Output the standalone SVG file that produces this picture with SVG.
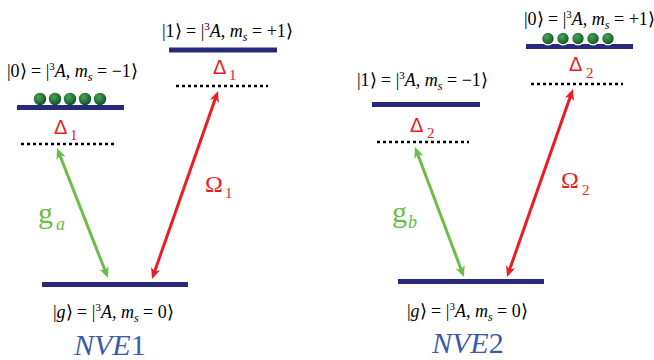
<svg xmlns="http://www.w3.org/2000/svg" width="654" height="360" viewBox="0 0 654 360">
<rect width="654" height="360" fill="#fff"/>
<defs>
<radialGradient id="bg" cx="0.4" cy="0.35" r="0.65">
<stop offset="0" stop-color="#4fa35a"/>
<stop offset="1" stop-color="#0b5520"/>
</radialGradient>
<marker id="ar" viewBox="-12 -6 14 12" refX="-4" refY="0" markerWidth="14" markerHeight="12" markerUnits="userSpaceOnUse" orient="auto-start-reverse">
<path d="M0,0 L-11,-4.8 L-8,0 L-11,4.8 Z" fill="#ec1c24"/>
</marker>
<marker id="ag" viewBox="-12 -6 14 12" refX="-4" refY="0" markerWidth="14" markerHeight="12" markerUnits="userSpaceOnUse" orient="auto-start-reverse">
<path d="M0,0 L-11,-4.8 L-8,0 L-11,4.8 Z" fill="#6abd45"/>
</marker>
</defs>

<g id="nve1-level0">
<text style="font-family:'Liberation Serif',serif !important" font-size="18" fill="#000" x="7" y="77">|0⟩ = |<tspan font-size="11" dy="-7">3</tspan><tspan font-style="italic" dy="7">A</tspan>, <tspan font-style="italic">m</tspan><tspan font-size="12" font-style="italic" dy="4">s</tspan><tspan dy="-4"> = −1⟩</tspan></text>
<g fill="url(#bg)">
<circle cx="40" cy="99" r="6.2"/>
<circle cx="55" cy="99" r="6.2"/>
<circle cx="70" cy="99" r="6.2"/>
<circle cx="85" cy="99" r="6.2"/>
<circle cx="100" cy="99" r="6.2"/>
</g>
<line stroke="#262a78" stroke-width="5" x1="17" y1="107.5" x2="124" y2="107.5"/>
<text style="font-family:'Liberation Sans',sans-serif !important" font-size="20" fill="#ec1c24" x="54" y="134">Δ</text>
<text style="font-family:'Liberation Serif',serif !important" font-size="15" fill="#ec1c24" x="70" y="140">1</text>
<line stroke="#000" stroke-width="2.6" stroke-dasharray="3 3" x1="21" y1="144" x2="114" y2="144"/>
</g>

<g id="nve1-level1">
<text style="font-family:'Liberation Serif',serif !important" font-size="18" fill="#000" x="162" y="37">|1⟩ = |<tspan font-size="11" dy="-7">3</tspan><tspan font-style="italic" dy="7">A</tspan>, <tspan font-style="italic">m</tspan><tspan font-size="12" font-style="italic" dy="4">s</tspan><tspan dy="-4"> = +1⟩</tspan></text>
<line stroke="#262a78" stroke-width="5" x1="169" y1="50" x2="277" y2="50"/>
<text style="font-family:'Liberation Sans',sans-serif !important" font-size="20" fill="#ec1c24" x="213" y="74">Δ</text>
<text style="font-family:'Liberation Serif',serif !important" font-size="15" fill="#ec1c24" x="229" y="80">1</text>
<line stroke="#000" stroke-width="2.6" stroke-dasharray="3 3" x1="176" y1="86" x2="268" y2="86"/>
</g>

<g id="nve1-ground">
<line stroke="#262a78" stroke-width="5" x1="42" y1="284.5" x2="188" y2="284.5"/>
<text style="font-family:'Liberation Serif',serif !important" font-size="18" fill="#000" x="53" y="318">|<tspan font-style="italic">g</tspan>⟩ = |<tspan font-size="11" dy="-7">3</tspan><tspan font-style="italic" dy="7">A</tspan>, <tspan font-style="italic">m</tspan><tspan font-size="12" font-style="italic" dy="4">s</tspan><tspan dy="-4"> = 0⟩</tspan></text>
<text style="font-family:'Liberation Serif',serif !important" font-size="30" font-style="italic" fill="#3b5ba9" x="74" y="355">NVE<tspan font-style="normal">1</tspan></text>
</g>

<g id="nve2-level1">
<text style="font-family:'Liberation Serif',serif !important" font-size="18" fill="#000" x="357" y="86">|1⟩ = |<tspan font-size="11" dy="-7">3</tspan><tspan font-style="italic" dy="7">A</tspan>, <tspan font-style="italic">m</tspan><tspan font-size="12" font-style="italic" dy="4">s</tspan><tspan dy="-4"> = −1⟩</tspan></text>
<line stroke="#262a78" stroke-width="5" x1="372" y1="104.5" x2="480" y2="104.5"/>
<text style="font-family:'Liberation Sans',sans-serif !important" font-size="20" fill="#ec1c24" x="410" y="132">Δ</text>
<text style="font-family:'Liberation Serif',serif !important" font-size="15" fill="#ec1c24" x="427" y="138">2</text>
<line stroke="#000" stroke-width="2.6" stroke-dasharray="3 3" x1="377" y1="142" x2="469" y2="142"/>
</g>

<g id="nve2-level0">
<text style="font-family:'Liberation Serif',serif !important" font-size="18" fill="#000" x="524" y="25">|0⟩ = |<tspan font-size="11" dy="-7">3</tspan><tspan font-style="italic" dy="7">A</tspan>, <tspan font-style="italic">m</tspan><tspan font-size="12" font-style="italic" dy="4">s</tspan><tspan dy="-4"> = +1⟩</tspan></text>
<line stroke="#262a78" stroke-width="5" x1="526" y1="46.5" x2="633" y2="46.5"/>
<g fill="url(#bg)" stroke="#fff" stroke-width="1.2">
<circle cx="548" cy="38.5" r="6.3"/>
<circle cx="563" cy="38.5" r="6.3"/>
<circle cx="578" cy="38.5" r="6.3"/>
<circle cx="593" cy="38.5" r="6.3"/>
<circle cx="608" cy="38.5" r="6.3"/>
</g>
<text style="font-family:'Liberation Sans',sans-serif !important" font-size="20" fill="#ec1c24" x="569" y="71">Δ</text>
<text style="font-family:'Liberation Serif',serif !important" font-size="15" fill="#ec1c24" x="586" y="78">2</text>
<line stroke="#000" stroke-width="2.6" stroke-dasharray="3 3" x1="531" y1="84" x2="623" y2="84"/>
</g>

<g id="nve2-ground">
<line stroke="#262a78" stroke-width="5" x1="398" y1="281.5" x2="544" y2="281.5"/>
<text style="font-family:'Liberation Serif',serif !important" font-size="18" fill="#000" x="407" y="317">|<tspan font-style="italic">g</tspan>⟩ = |<tspan font-size="11" dy="-7">3</tspan><tspan font-style="italic" dy="7">A</tspan>, <tspan font-style="italic">m</tspan><tspan font-size="12" font-style="italic" dy="4">s</tspan><tspan dy="-4"> = 0⟩</tspan></text>
<text style="font-family:'Liberation Serif',serif !important" font-size="30" font-style="italic" fill="#3b5ba9" x="432" y="353">NVE<tspan font-style="normal">2</tspan></text>
</g>

<g id="connectors" stroke-width="3" fill="none">
<line stroke="#6abd45" marker-start="url(#ag)" marker-end="url(#ag)" x1="58.46" y1="151.72" x2="106.54" y2="274.28"/>
<line stroke="#ec1c24" marker-start="url(#ar)" marker-end="url(#ar)" x1="216.68" y1="94.77" x2="153.32" y2="275.23"/>
<line stroke="#6abd45" marker-start="url(#ag)" marker-end="url(#ag)" x1="416.41" y1="150.74" x2="462.59" y2="273.26"/>
<line stroke="#ec1c24" marker-start="url(#ar)" marker-end="url(#ar)" x1="571.68" y1="92.77" x2="508.32" y2="273.23"/>
</g>
<g id="connector-labels">
<text style="font-family:'Liberation Serif',serif !important" font-size="30" fill="#6abd45" x="38" y="223">g</text>
<text style="font-family:'Liberation Serif',serif !important" font-size="18" font-style="italic" fill="#6abd45" x="56" y="230">a</text>
<text style="font-family:'Liberation Serif',serif !important" font-size="24" fill="#ec1c24" x="205" y="192">Ω</text>
<text style="font-family:'Liberation Serif',serif !important" font-size="15" fill="#ec1c24" x="225" y="198">1</text>
<text style="font-family:'Liberation Serif',serif !important" font-size="30" fill="#6abd45" x="392" y="222">g</text>
<text style="font-family:'Liberation Serif',serif !important" font-size="18" font-style="italic" fill="#6abd45" x="408" y="228">b</text>
<text style="font-family:'Liberation Serif',serif !important" font-size="24" fill="#ec1c24" x="561" y="188">Ω</text>
<text style="font-family:'Liberation Serif',serif !important" font-size="15" fill="#ec1c24" x="582" y="195">2</text>
</g>
</svg>
